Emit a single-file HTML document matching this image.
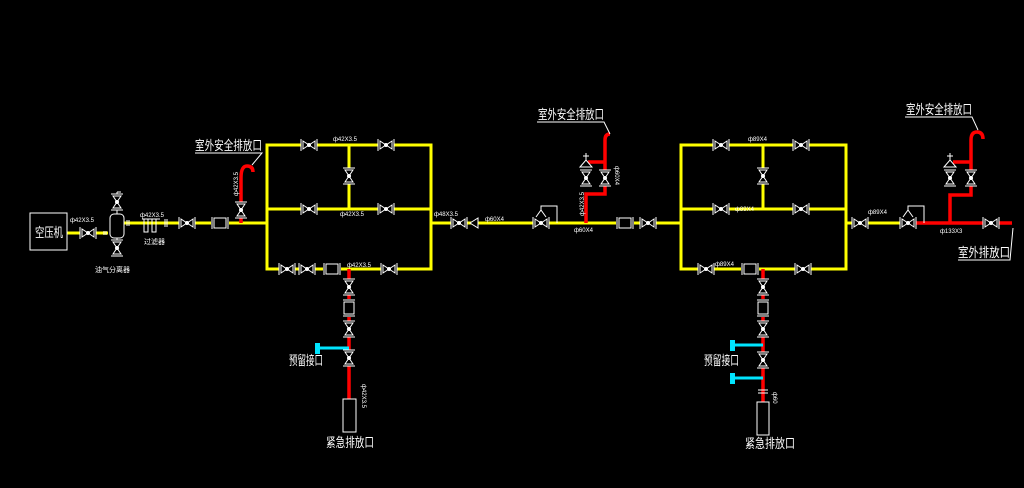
<!DOCTYPE html>
<html><head><meta charset="utf-8"><style>
html,body{margin:0;padding:0;background:#000;}
svg{display:block}
text{font-family:"Liberation Sans","Noto Sans CJK SC","WenQuanYi Zen Hei",sans-serif;fill:#fff}
</style></head><body>
<svg width="1024" height="488" viewBox="0 0 1024 488" xmlns="http://www.w3.org/2000/svg">
<defs>
<g id="hv">
<rect x="-8" y="-5" width="16" height="10" fill="#000"/>
<path d="M-6,-4 L6,4 L6,-4 L-6,4 Z" fill="none" stroke="#fff" stroke-width="1"/>
<line x1="-8" y1="-6" x2="-8" y2="6" stroke="#fff" stroke-width="1"/>
<line x1="8" y1="-6" x2="8" y2="6" stroke="#fff" stroke-width="1"/>
<circle cx="0" cy="0" r="2" fill="#fff"/>
</g>
<g id="vv"><use href="#hv" transform="rotate(90)"/></g>
<g id="bx">
<rect x="-9" y="-6" width="18" height="12" fill="#000"/>
<rect x="-6" y="-5" width="12" height="10" fill="none" stroke="#fff"/>
<line x1="-8" y1="-6" x2="-8" y2="6" stroke="#fff"/>
<line x1="8" y1="-6" x2="8" y2="6" stroke="#fff"/>
</g>
<g id="vbx"><use href="#bx" transform="rotate(90)"/></g>
</defs>

<g stroke="#ffff00" stroke-width="3" fill="none">
<line x1="67" y1="233" x2="108" y2="233"/>
<line x1="124" y1="223" x2="268" y2="223"/>
<rect x="267" y="145" width="164" height="124"/>
<line x1="267" y1="209" x2="431" y2="209"/>
<line x1="349" y1="145" x2="349" y2="209"/>
<line x1="431" y1="223" x2="585" y2="223"/>
<line x1="585" y1="223" x2="682" y2="223"/>
<rect x="681" y="145" width="165" height="124"/>
<line x1="681" y1="209" x2="846" y2="209"/>
<line x1="763" y1="145" x2="763" y2="209"/>
<line x1="846" y1="223" x2="905" y2="223"/>
</g>

<g stroke="#ff0000" stroke-width="3.5" fill="none">
<line x1="241" y1="223" x2="241" y2="178"/>
<path d="M241,178 Q241,166 247,166 Q253,166 253,172"/>
<line x1="349" y1="269" x2="349" y2="400"/>
<line x1="763" y1="269" x2="763" y2="405"/>
<path d="M586,223 V194 H605 V140"/>
<line x1="588" y1="162" x2="605" y2="162"/>
<path d="M605,140 Q605,134 610,134"/>
<line x1="912" y1="223" x2="1012" y2="223"/>
<path d="M950,223 V195 H971 V140 Q971,132 977,132 Q983,132 983,139"/>
<line x1="953" y1="162" x2="971" y2="162"/>
</g>

<g stroke="#00e5ff" stroke-width="3" fill="none">
<line x1="318" y1="348" x2="349" y2="348"/>
<line x1="733" y1="345" x2="763" y2="345"/>
<line x1="733" y1="378" x2="763" y2="378"/>
</g>
<g fill="#00e5ff">
<rect x="315" y="343" width="5" height="11"/>
<rect x="730" y="340" width="5" height="11"/>
<rect x="730" y="373" width="5" height="11"/>
</g>

<rect x="30" y="213" width="37" height="37" fill="none" stroke="#fff"/>
<text x="35" y="237" font-size="13" textLength="28" lengthAdjust="spacingAndGlyphs">空压机</text>
<use href="#hv" x="88" y="233"/>
<g stroke="#fff" fill="none">
<rect x="110" y="214" width="14" height="24" rx="4"/>
<line x1="117" y1="214" x2="117" y2="192"/><line x1="117" y1="192" x2="121" y2="192"/>
<line x1="117" y1="238" x2="117" y2="256"/>
<line x1="104" y1="231" x2="104" y2="235"/><line x1="106" y1="231" x2="106" y2="235"/>
<line x1="127" y1="220" x2="127" y2="226"/><line x1="129" y1="220" x2="129" y2="226"/>
<path d="M142,219 H160 M144,219 V232 H148 V219 M152,219 V232 H156 V219"/>
<line x1="165" y1="219" x2="165" y2="227"/><line x1="167" y1="219" x2="167" y2="227"/>
</g>
<use href="#vv" x="117" y="202"/><use href="#vv" x="117" y="248"/>
<use href="#hv" x="187" y="223"/>
<use href="#bx" x="220" y="223"/>
<use href="#vv" x="241" y="210"/>

<use href="#hv" x="309" y="145"/><use href="#hv" x="386" y="145"/>
<use href="#vv" x="349" y="176"/>
<use href="#hv" x="309" y="209"/><use href="#hv" x="386" y="209"/>
<use href="#hv" x="287" y="269"/><use href="#hv" x="307" y="269"/>
<use href="#bx" x="332" y="269"/><use href="#hv" x="389" y="269"/>
<use href="#hv" x="459" y="223"/>
<path d="M470,223 L478,218 L478,228 Z" fill="#000" stroke="#fff"/>
<use href="#hv" x="541" y="223"/>
<path d="M536,217 L541,210 L546,217 M541,210 V206 H557 V223" fill="none" stroke="#fff"/>
<use href="#bx" x="625" y="223"/><use href="#hv" x="648" y="223"/>
<use href="#vv" x="349" y="287"/><use href="#vbx" x="349" y="308"/>
<use href="#vv" x="349" y="329"/><use href="#vv" x="349" y="358"/>
<rect x="343" y="399" width="13" height="33" fill="#000" stroke="#fff"/>
<use href="#vv" x="586" y="178"/><use href="#vv" x="605" y="178"/>
<path d="M580,167 L586,160 L592,167 Z M586,160 V153 M583,156 H589" fill="#000" stroke="#fff"/>

<use href="#hv" x="721" y="145"/><use href="#hv" x="801" y="145"/>
<use href="#vv" x="763" y="176"/>
<use href="#hv" x="721" y="209"/><use href="#hv" x="801" y="209"/>
<use href="#hv" x="706" y="269"/><use href="#bx" x="750" y="269"/><use href="#hv" x="803" y="269"/>
<use href="#hv" x="860" y="223"/>
<use href="#hv" x="908" y="223"/>
<path d="M903,217 L908,210 L913,217 M908,210 V206 H924 V223" fill="none" stroke="#fff"/>
<use href="#hv" x="991" y="223"/>
<use href="#vv" x="950" y="178"/><use href="#vv" x="971" y="178"/>
<path d="M944,167 L950,160 L956,167 Z M950,160 V153 M947,156 H953" fill="#000" stroke="#fff"/>
<use href="#vv" x="763" y="287"/><use href="#vbx" x="763" y="308"/>
<use href="#vv" x="763" y="329"/><use href="#vv" x="763" y="360"/>
<g stroke="#fff"><line x1="758" y1="390" x2="768" y2="390"/><line x1="758" y1="393" x2="768" y2="393"/></g>
<rect x="757" y="402" width="12" height="33" fill="#000" stroke="#fff"/>

<g stroke="#fff" fill="none">
<path d="M195,153 H262 L252,165"/>
<path d="M537,122 H604 L610,134"/>
<path d="M905,117 H972 L978,130"/>
<path d="M958,260 H1010 L1013,228"/>
</g>
<g font-size="13">
<text x="195" y="150" textLength="67" lengthAdjust="spacingAndGlyphs">室外安全排放口</text>
<text x="538" y="119" textLength="66" lengthAdjust="spacingAndGlyphs">室外安全排放口</text>
<text x="906" y="114" textLength="66" lengthAdjust="spacingAndGlyphs">室外安全排放口</text>
<text x="958" y="257" textLength="52" lengthAdjust="spacingAndGlyphs">室外排放口</text>
<text x="289" y="365" textLength="34" lengthAdjust="spacingAndGlyphs">预留接口</text>
<text x="704" y="365" textLength="35" lengthAdjust="spacingAndGlyphs">预留接口</text>
<text x="326" y="447" textLength="48" lengthAdjust="spacingAndGlyphs">紧急排放口</text>
<text x="745" y="448" textLength="50" lengthAdjust="spacingAndGlyphs">紧急排放口</text>
</g>
<text x="95" y="272" font-size="7">油气分离器</text>
<text x="144" y="244" font-size="7">过滤器</text>
<g font-size="6">
<text x="70" y="222">ф42X3.5</text>
<text x="140" y="217">ф42X3.5</text>
<text x="333" y="141">ф42X3.5</text>
<text x="340" y="216">ф42X3.5</text>
<text x="347" y="267">ф42X3.5</text>
<text x="434" y="216">ф48X3.5</text>
<text x="485" y="221">ф60X4</text>
<text x="574" y="232">ф60X4</text>
<text x="748" y="141">ф89X4</text>
<text x="735" y="211">ф89X4</text>
<text x="715" y="266">ф89X4</text>
<text x="868" y="214">ф89X4</text>
<text x="940" y="233">ф133X3</text>
<text transform="translate(238,196) rotate(-90)">ф42X3.5</text>
<text transform="translate(584,216) rotate(-90)">ф42X3.5</text>
<text transform="translate(615,166) rotate(90)">ф60X4</text>
<text transform="translate(362,384) rotate(90)">ф42X3.5</text>
<text transform="translate(773,392) rotate(90)">ф60</text>
</g>
</svg>
</body></html>
